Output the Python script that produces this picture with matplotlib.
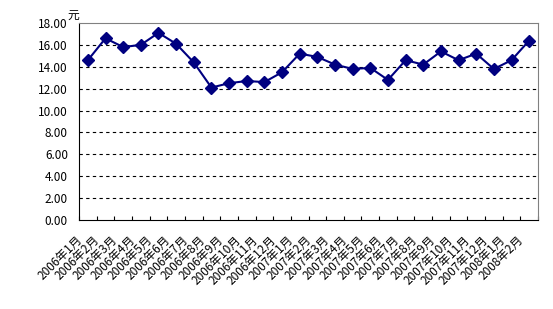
import matplotlib
matplotlib.use("Agg")
import matplotlib.pyplot as plt
from matplotlib.transforms import ScaledTranslation

plt.rcParams['font.family'] = ['Noto Sans CJK SC', 'DejaVu Sans']

months = ['2006年1月', '2006年2月', '2006年3月', '2006年4月', '2006年5月', '2006年6月',
          '2006年7月', '2006年8月', '2006年9月', '2006年10月', '2006年11月', '2006年12月',
          '2007年1月', '2007年2月', '2007年3月', '2007年4月', '2007年5月', '2007年6月',
          '2007年7月', '2007年8月', '2007年9月', '2007年10月', '2007年11月', '2007年12月',
          '2008年1月', '2008年2月']
prices = [14.6, 16.6, 15.8, 16.0, 17.1, 16.1, 14.4, 12.1, 12.5, 12.7, 12.6, 13.5,
          15.2, 14.9, 14.2, 13.8, 13.9, 12.8, 14.6, 14.2, 15.4, 14.6, 15.2, 13.8,
          14.6, 16.4]
yticks = [0, 2, 4, 6, 8, 10, 12, 14, 16, 18]

fig = plt.figure(figsize=(5.53, 3.09), dpi=100)
ax = fig.add_axes([0.1429, 0.288, 0.830, 0.6376])

x = range(len(months))
ax.plot(x, prices, color='#000080', lw=1.5, marker='D', markersize=6)

ax.set_xlim(-0.5, len(months) - 0.5)
ax.set_ylim(0, 18)
ax.set_yticks(yticks)
ax.set_yticklabels(['%.2f' % v for v in yticks], fontsize=8.5)
ax.set_xticks([i - 0.5 for i in range(len(months) + 1)], minor=True)
ax.set_xticks(list(x))
ax.set_xticklabels(months, rotation=45, ha='right', va='center',
                   rotation_mode='anchor', fontsize=8.5)
ax.tick_params(axis='x', which='major', length=0, pad=13)
ax.tick_params(axis='x', which='minor', direction='in', length=3, width=0.8)
ax.tick_params(axis='y', length=0, pad=8)

# shift the rotated labels a little left, as in the original
shift = ScaledTranslation(-0.08, 0, fig.dpi_scale_trans)
for lab in ax.get_xticklabels():
    lab.set_transform(lab.get_transform() + shift)

for v in yticks[1:-1]:
    ax.axhline(v, color='black', lw=0.8, ls=(0, (3, 3)), zorder=0)

for s in ['top', 'right']:
    ax.spines[s].set_color('#808080')
ax.spines['left'].set_color('black')
ax.spines['bottom'].set_color('black')

ax.annotate('元', xy=(0, 1), xycoords='axes fraction', xytext=(0, 1),
            textcoords='offset points', fontsize=8.5, ha='right', va='bottom')

fig.savefig('out.png', dpi=100)
